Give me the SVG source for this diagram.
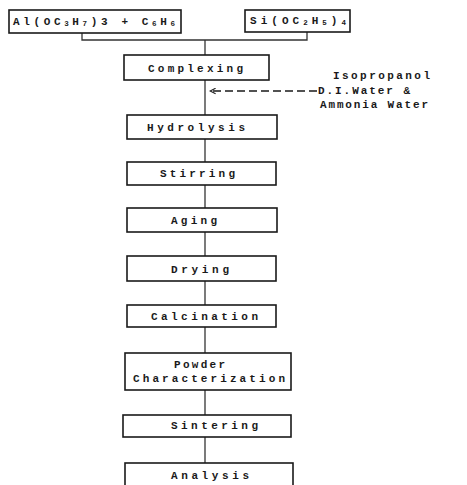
<svg xmlns="http://www.w3.org/2000/svg" width="467" height="485" viewBox="0 0 467 485">
<defs>
<style>
.box{fill:#fff;stroke:#1a1a1a;stroke-width:1.6}
.t{font-family:"Liberation Mono","DejaVu Sans Mono",monospace;font-size:11px;font-weight:bold;fill:#1a1a1a;text-anchor:start;dominant-baseline:central}
.c{fill:none;stroke:#333;stroke-width:1.3}
.sub{font-size:7.5px}
</style>
<marker id="ah" viewBox="0 0 10 10" refX="9" refY="5" markerWidth="7" markerHeight="7" orient="auto" markerUnits="userSpaceOnUse">
<path d="M1,1 L9,5 L1,9" fill="none" stroke="#1a1a1a" stroke-width="1.5"/>
</marker>
</defs>
<rect width="467" height="485" fill="#fff"/>
<g id="connectors">
<path class="c" d="M82,33 V40 H307 V32"/>
<path class="c" d="M205,40 V55"/>
<path class="c" d="M205,80 V115"/>
<path class="c" d="M205,139 V162"/>
<path class="c" d="M205,185 V208"/>
<path class="c" d="M205,232 V256"/>
<path class="c" d="M205,281 V305"/>
<path class="c" d="M205,327 V353"/>
<path class="c" d="M205,390 V415"/>
<path class="c" d="M205,437 V463"/>
<path d="M317,91 H210" fill="none" stroke="#1a1a1a" stroke-width="1.3" stroke-dasharray="8,4" marker-end="url(#ah)"/>
</g>
<g id="n-al">
<rect class="box" x="9" y="10" width="172" height="23"/>
<text class="t" x="13" y="22" textLength="162" lengthAdjust="spacing">Al(OC<tspan class="sub" dy="2">3</tspan><tspan dy="-2">H</tspan><tspan class="sub" dy="2">7</tspan><tspan dy="-2">)3 + C</tspan><tspan class="sub" dy="2">6</tspan><tspan dy="-2">H</tspan><tspan class="sub" dy="2">6</tspan></text>
</g>
<g id="n-si">
<rect class="box" x="245" y="10" width="105" height="22"/>
<text class="t" x="250" y="21" textLength="96" lengthAdjust="spacing">Si(OC<tspan class="sub" dy="2">2</tspan><tspan dy="-2">H</tspan><tspan class="sub" dy="2">5</tspan><tspan dy="-2">)</tspan><tspan class="sub" dy="2">4</tspan></text>
</g>
<g id="n-complexing">
<rect class="box" x="124" y="55" width="145" height="25"/>
<text class="t" x="148" y="69" textLength="95" lengthAdjust="spacing">Complexing</text>
</g>
<g id="n-reagents">
<text class="t" x="333" y="76" textLength="97" lengthAdjust="spacing">Isopropanol</text>
<text class="t" x="318" y="91" textLength="92" lengthAdjust="spacing">D.I.Water &amp;</text>
<text class="t" x="320" y="105" textLength="108" lengthAdjust="spacing">Ammonia Water</text>
</g>
<g id="n-hydrolysis">
<rect class="box" x="127" y="115" width="150" height="24"/>
<text class="t" x="147" y="128" textLength="98" lengthAdjust="spacing">Hydrolysis</text>
</g>
<g id="n-stirring">
<rect class="box" x="127" y="162" width="149" height="23"/>
<text class="t" x="160" y="174" textLength="75" lengthAdjust="spacing">Stirring</text>
</g>
<g id="n-aging">
<rect class="box" x="127" y="208" width="150" height="24"/>
<text class="t" x="171" y="221" textLength="46" lengthAdjust="spacing">Aging</text>
</g>
<g id="n-drying">
<rect class="box" x="127" y="256" width="149" height="25"/>
<text class="t" x="171" y="270" textLength="58" lengthAdjust="spacing">Drying</text>
</g>
<g id="n-calcination">
<rect class="box" x="127" y="305" width="149" height="22"/>
<text class="t" x="151" y="317" textLength="107" lengthAdjust="spacing">Calcination</text>
</g>
<g id="n-powder">
<rect class="box" x="125" y="353" width="166" height="37"/>
<text class="t" x="174" y="365" textLength="51" lengthAdjust="spacing">Powder</text>
<text class="t" x="133" y="379" textLength="152" lengthAdjust="spacing">Characterization</text>
</g>
<g id="n-sintering">
<rect class="box" x="123" y="415" width="168" height="22"/>
<text class="t" x="171" y="426" textLength="87" lengthAdjust="spacing">Sintering</text>
</g>
<g id="n-analysis">
<rect class="box" x="125" y="463" width="168" height="30"/>
<text class="t" x="171" y="476" textLength="78" lengthAdjust="spacing">Analysis</text>
</g>
</svg>
